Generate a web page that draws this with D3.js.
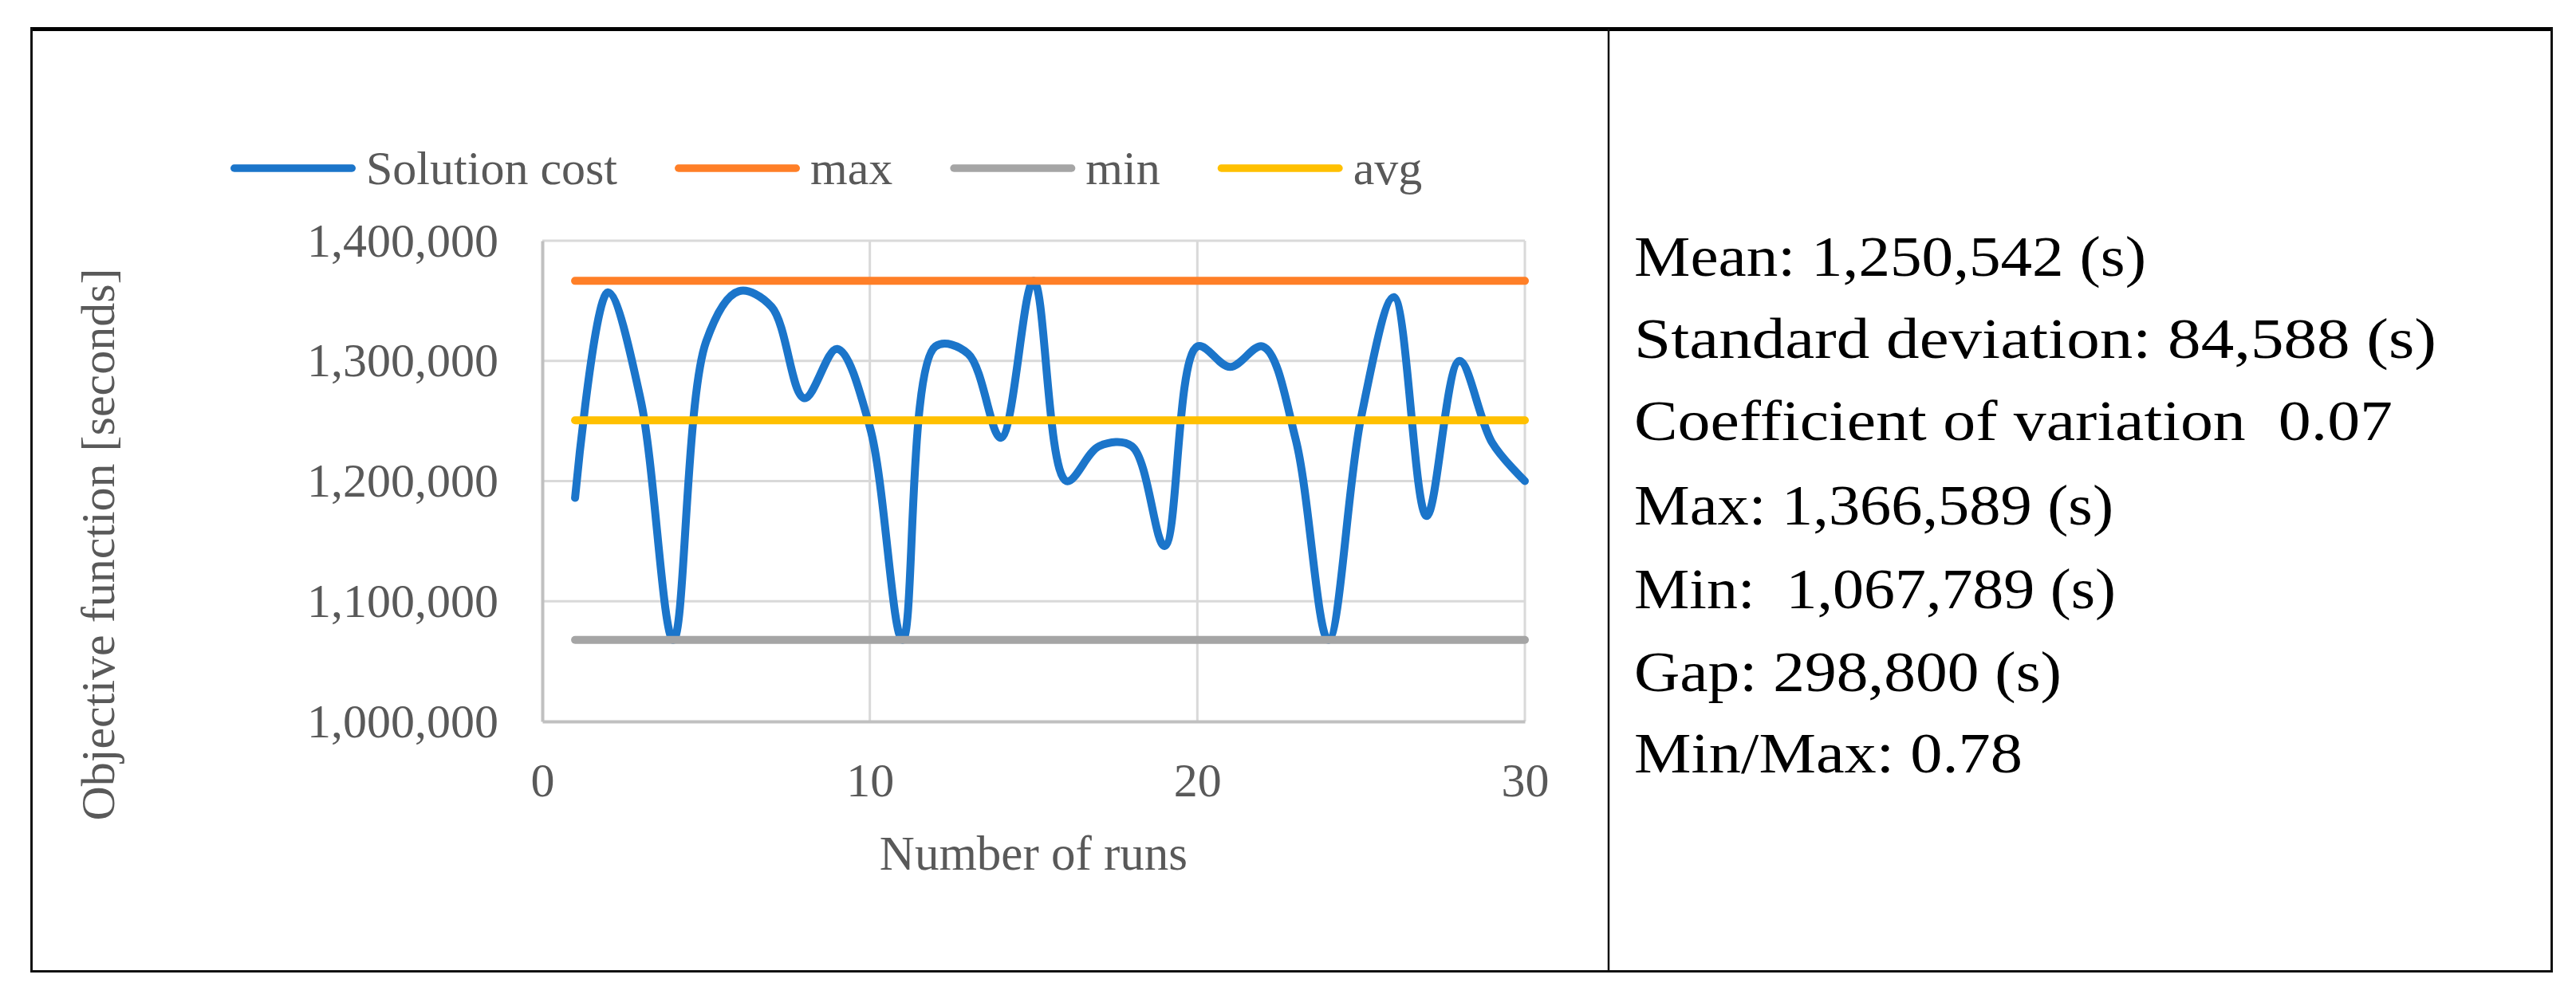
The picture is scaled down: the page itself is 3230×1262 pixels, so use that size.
<!DOCTYPE html>
<html>
<head>
<meta charset="utf-8">
<script src="https://cdn.jsdelivr.net/npm/d3@7"></script>
<style>
  html, body { margin: 0; padding: 0; background: #ffffff; }
  svg { display: block; }
  text { white-space: pre; }
</style>
</head>
<body>
<svg id="chart" width="3230" height="1262"></svg>
<script>
// ---------------- data ----------------
const runs = [1, 2, 3, 4, 5, 6, 7, 8, 9, 10, 11, 12, 13, 14, 15,
              16, 17, 18, 19, 20, 21, 22, 23, 24, 25, 26, 27, 28, 29, 30];
const solutionCost = [1186000, 1357000, 1268000, 1067789, 1316000, 1358000, 1345000, 1269000, 1310000, 1245000,
                      1067789, 1312000, 1306000, 1236000, 1366589, 1200000, 1229000, 1229000, 1146000, 1312000,
                      1295000, 1312000, 1235000, 1067789, 1253000, 1353000, 1171000, 1300000, 1232000, 1200000];
const maxCost = 1366589;
const minCost = 1067789;
const avgCost = 1250542;
const yTicks = [1000000, 1100000, 1200000, 1300000, 1400000];
const xTicks = [0, 10, 20, 30];
const seriesNames = ["Solution cost", "max", "min", "avg"];
const seriesColors = ["#1b75ca", "#ff7f27", "#a5a5a5", "#ffc000"];
const xTitle = "Number of runs";
const yTitle = "Objective function [seconds]";
const statLines = [
  "Mean: 1,250,542 (s)",
  "Standard deviation: 84,588 (s)",
  "Coefficient of variation  0.07",
  "Max: 1,366,589 (s)",
  "Min:  1,067,789 (s)",
  "Gap: 298,800 (s)",
  "Min/Max: 0.78"
];

// ---------------- layout ----------------
const svg = d3.select("#chart");
const FONT = "'Liberation Serif', 'Times New Roman', serif";
const TXT = "#595959";
const plot = { left: 680, right: 1912, top: 302, bottom: 905 };

svg.append("rect").attr("x", 0).attr("y", 0).attr("width", 3230).attr("height", 1262).attr("fill", "#fff");

// outer table frame
const frame = svg.append("g");
frame.append("line").attr("x1", 38).attr("x2", 3201).attr("y1", 36.5).attr("y2", 36.5)
  .attr("stroke", "#000").attr("stroke-width", 5);
frame.append("line").attr("x1", 39.5).attr("x2", 39.5).attr("y1", 35).attr("y2", 1220)
  .attr("stroke", "#111").attr("stroke-width", 3);
frame.append("line").attr("x1", 3199.5).attr("x2", 3199.5).attr("y1", 35).attr("y2", 1220)
  .attr("stroke", "#111").attr("stroke-width", 3);
frame.append("line").attr("x1", 38).attr("x2", 3201).attr("y1", 1218.5).attr("y2", 1218.5)
  .attr("stroke", "#111").attr("stroke-width", 3);
frame.append("line").attr("x1", 2017).attr("x2", 2017).attr("y1", 36).attr("y2", 1219)
  .attr("stroke", "#111").attr("stroke-width", 2.5);

// scales
const x = d3.scaleLinear().domain([0, 30]).range([plot.left, plot.right]);
const y = d3.scaleLinear().domain([1000000, 1400000]).range([plot.bottom, plot.top]);

// gridlines
const grid = svg.append("g");
grid.selectAll(".hg").data(yTicks.slice(1)).join("line")
  .attr("x1", plot.left).attr("x2", plot.right)
  .attr("y1", d => y(d)).attr("y2", d => y(d))
  .attr("stroke", "#d9d9d9").attr("stroke-width", 3);
grid.selectAll(".vg").data(xTicks.slice(1)).join("line")
  .attr("x1", d => x(d)).attr("x2", d => x(d))
  .attr("y1", plot.top).attr("y2", plot.bottom)
  .attr("stroke", "#d9d9d9").attr("stroke-width", 3);

// axes
const yAxis = svg.append("g").attr("transform", `translate(${plot.left},0)`)
  .call(d3.axisLeft(y).tickValues(yTicks).tickFormat(d3.format(",")).tickSize(0).tickPadding(55));
yAxis.select(".domain").attr("stroke", "#c0c0c0").attr("stroke-width", 4);
yAxis.selectAll("text").attr("font-family", FONT).attr("font-size", 60).attr("fill", TXT);

const xAxis = svg.append("g").attr("transform", `translate(0,${plot.bottom})`)
  .call(d3.axisBottom(x).tickValues(xTicks).tickSize(0).tickPadding(51));
xAxis.select(".domain").attr("stroke", "#c0c0c0").attr("stroke-width", 4);
xAxis.selectAll("text").attr("font-family", FONT).attr("font-size", 60).attr("fill", TXT);

// axis titles
svg.append("text").text(xTitle)
  .attr("x", (plot.left + plot.right) / 2).attr("y", 1091)
  .attr("text-anchor", "middle").attr("font-family", FONT).attr("font-size", 61).attr("fill", TXT);
svg.append("text").text(yTitle)
  .attr("transform", "translate(143,683) rotate(-90)")
  .attr("text-anchor", "middle").attr("font-family", FONT).attr("font-size", 60).attr("fill", TXT)
  .attr("textLength", 693).attr("lengthAdjust", "spacingAndGlyphs");

// series
const costPts = runs.map((r, i) => [r, solutionCost[i]]);
const seriesData = [
  costPts,
  runs.map(r => [r, maxCost]),
  runs.map(r => [r, minCost]),
  runs.map(r => [r, avgCost])
];
const smooth = d3.line().x(d => x(d[0])).y(d => y(d[1])).curve(d3.curveCatmullRom.alpha(0.5));
const straight = d3.line().x(d => x(d[0])).y(d => y(d[1]));
const series = svg.append("g");
series.append("path").datum(seriesData[0])
  .attr("d", smooth)
  .attr("fill", "none").attr("stroke", seriesColors[0]).attr("stroke-width", 10)
  .attr("stroke-linecap", "round").attr("stroke-linejoin", "round");
[1, 2, 3].forEach(k => {
  series.append("path").datum(seriesData[k])
    .attr("d", straight)
    .attr("fill", "none").attr("stroke", seriesColors[k]).attr("stroke-width", 10)
    .attr("stroke-linecap", "round");
});

// legend
const legend = svg.append("g");
let lx = 289;
const swatchLen = 157, swatchGap = 13, itemGap = 72;
seriesNames.forEach((name, i) => {
  legend.append("line")
    .attr("x1", lx + 4.7).attr("x2", lx + swatchLen - 4.7)
    .attr("y1", 211).attr("y2", 211)
    .attr("stroke", seriesColors[i]).attr("stroke-width", 9.4).attr("stroke-linecap", "round");
  const t = legend.append("text").text(name)
    .attr("x", lx + swatchLen + swatchGap).attr("y", 231)
    .attr("font-family", FONT).attr("font-size", 60).attr("fill", TXT);
  lx += swatchLen + swatchGap + t.node().getComputedTextLength() + itemGap;
});

// statistics panel
const statBaselines = [346, 449, 552, 658, 763, 867, 969];
const statWidths = [642, 1006, 951, 601, 604, 536, 487];
svg.append("g").selectAll("text").data(statLines).join("text")
  .text(d => d)
  .attr("x", 2049).attr("y", (d, i) => statBaselines[i])
  .attr("font-family", FONT).attr("font-size", 71).attr("fill", "#000")
  .attr("textLength", (d, i) => statWidths[i]).attr("lengthAdjust", "spacingAndGlyphs");
</script>
</body>
</html>
